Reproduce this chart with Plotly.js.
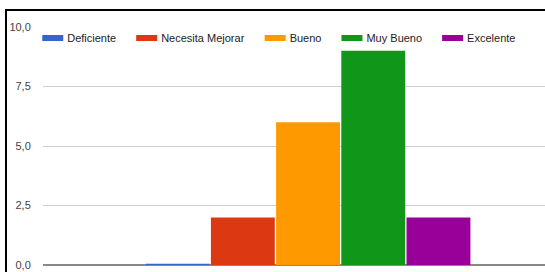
<!DOCTYPE html>
<html>
<head>
<meta charset="utf-8">
<script src="https://cdn.plot.ly/plotly-3.0.1.min.js"></script>
<style>
  html, body { margin: 0; padding: 0; background: #fff; }
  #wrap { position: relative; width: 545px; height: 272px; overflow: hidden; }
  #frame { position: absolute; left: 5px; top: 9px; width: 600px; height: 300px;
           border-left: 2.5px solid #000; border-top: 2.5px solid #000; pointer-events: none; z-index: 5; }
  #chart { position: absolute; left: 0; top: 0; width: 545px; height: 272px; }
</style>
</head>
<body>
<div id="wrap">
  <div id="chart"></div>
  <div id="frame"></div>
</div>
<script>
// Data
const categories = ['Total'];
const seriesNames = ['Deficiente', 'Necesita Mejorar', 'Bueno', 'Muy Bueno', 'Excelente'];
const seriesValues = [0.05, 2, 6, 9, 2];
const seriesColors = ['#3366cc', '#dc3912', '#ff9900', '#109618', '#990099'];
const yTicks = [0, 2.5, 5, 7.5, 10];

const traces = seriesNames.map((name, i) => ({
  type: 'bar',
  name: name,
  x: categories,
  y: [seriesValues[i]],
  marker: { color: seriesColors[i], line: { width: 0 } },
  hoverinfo: 'name+y'
}));

const layout = {
  width: 545,
  height: 272,
  margin: { l: 43, r: 0, t: 27, b: 7, pad: 0, autoexpand: false },
  paper_bgcolor: '#fff',
  plot_bgcolor: '#fff',
  font: { family: '"Liberation Sans", Arial, sans-serif', size: 11, color: '#444' },
  separators: ',.',
  barmode: 'group',
  bargap: 0.385,
  bargroupgap: 0.02,
  showlegend: true,
  legend: {
    orientation: 'h',
    xref: 'container', yref: 'container',
    x: 0.05, xanchor: 'left',
    y: 0.86, yanchor: 'middle',
    bgcolor: 'rgba(0,0,0,0)',
    borderwidth: 0,
    font: { family: '"Liberation Sans", Arial, sans-serif', size: 11, color: '#222' },
    traceorder: 'normal'
  },
  xaxis: {
    type: 'category',
    range: [-0.5, 0.447],
    showticklabels: false,
    showgrid: false,
    zeroline: false,
    showline: false,
    ticks: ''
  },
  yaxis: {
    range: [0, 10],
    tickvals: yTicks,
    tickformat: '.1f',
    showgrid: true,
    gridcolor: '#d0d0d0',
    gridwidth: 1,
    zeroline: true,
    zerolinecolor: '#888',
    zerolinewidth: 1.5,
    showline: false,
    ticks: 'outside',
    ticklen: 9,
    tickcolor: 'rgba(0,0,0,0)',
    tickfont: { size: 11, color: '#444' }
  }
};

Plotly.newPlot('chart', traces, layout, { displayModeBar: false, staticPlot: true }).then(() => {
  document.querySelectorAll('#chart .legend .legendpoints path').forEach(p => {
    p.setAttribute('d', 'M-5,3H16V-3H-5Z');
  });
});
</script>
</body>
</html>
